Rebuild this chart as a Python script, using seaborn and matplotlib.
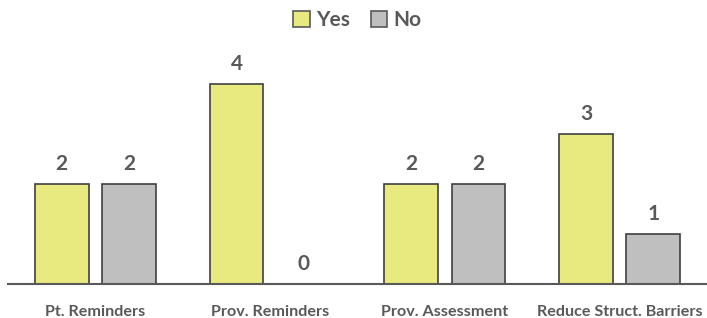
import pandas as pd
import matplotlib.pyplot as plt
import seaborn as sns

# data
categories = ["Pt. Reminders", "Prov. Reminders", "Prov. Assessment", "Reduce Struct. Barriers"]
yes_vals = [2, 4, 2, 3]
no_vals = [2, 0, 2, 1]

df = pd.DataFrame({
    "category": categories * 2,
    "answer": ["Yes"] * 4 + ["No"] * 4,
    "count": yes_vals + no_vals,
})

sns.set_style("white")
plt.rcParams["font.family"] = ["Lato", "DejaVu Sans"]
grey_txt = "#595959"

fig = plt.figure(figsize=(7.07, 3.18), dpi=100)
ax = fig.add_axes([8 / 707, 34 / 318, 699 / 707, 250 / 318])

sns.barplot(data=df, x="category", y="count", hue="answer",
            palette={"Yes": "#E8E97E", "No": "#BFBFBF"}, saturation=1,
            width=0.77, gap=0.2, edgecolor="#404040", linewidth=1.2, ax=ax)

for cont in ax.containers:
    ax.bar_label(cont, padding=7, fontsize=15, fontweight="bold", color=grey_txt)

ax.set_ylim(0, 5)
ax.set_xlim(-0.5, 3.5)
ax.set_yticks([])
ax.set_xlabel("")
ax.set_ylabel("")
ax.tick_params(axis="x", length=0, pad=15, labelsize=11.6)
for lbl in ax.get_xticklabels():
    lbl.set_fontweight("bold")
    lbl.set_color(grey_txt)
for s in ["top", "left", "right"]:
    ax.spines[s].set_visible(False)
ax.spines["bottom"].set_color("#595959")
ax.spines["bottom"].set_linewidth(1.5)

leg = ax.legend(loc="upper center", bbox_to_anchor=(0.5, 1.17), ncol=2, frameon=False,
                handlelength=0.8, handleheight=0.8, handletextpad=0.3, columnspacing=1.0,
                prop={"size": 15, "weight": "bold"})
for t in leg.get_texts():
    t.set_color(grey_txt)
for h in leg.legend_handles:
    h.set_edgecolor("#595959")

fig.savefig("out.png", dpi=100)
